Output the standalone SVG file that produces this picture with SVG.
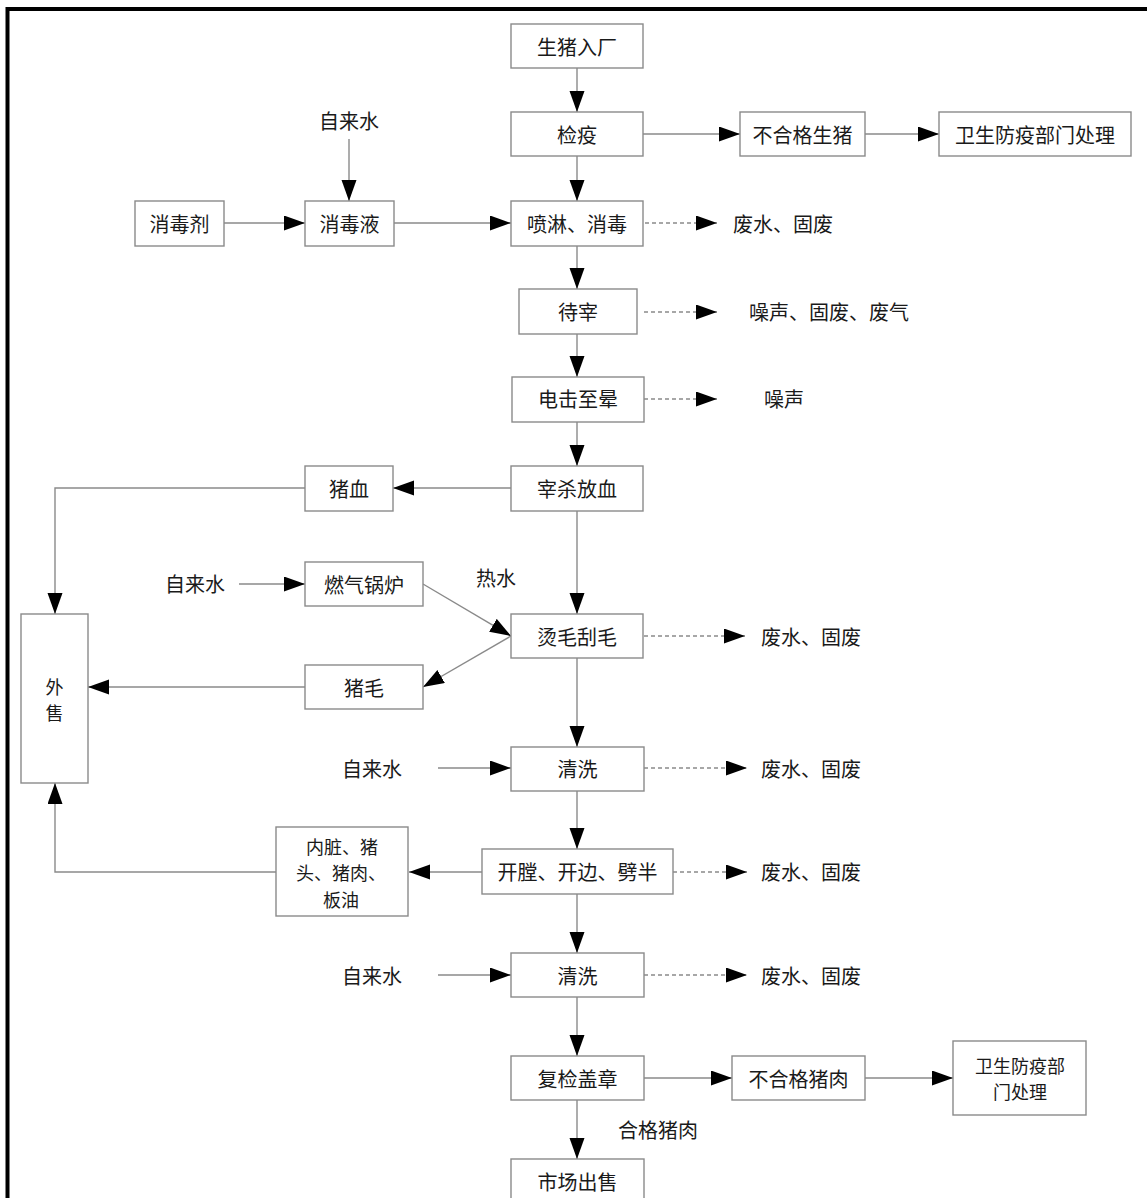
<svg xmlns="http://www.w3.org/2000/svg" width="1147" height="1198" viewBox="0 0 1147 1198">
<style>
.box{fill:#fff;stroke:#8a8a8a;stroke-width:1.4}
.t{font-family:"Noto Sans CJK SC","Noto Sans CJK TC",sans-serif;font-size:20px;fill:#1a1a1a;text-anchor:middle;dominant-baseline:central}
.tm{font-family:"Noto Sans CJK SC","Noto Sans CJK TC",sans-serif;font-size:18px;fill:#1a1a1a;text-anchor:middle;dominant-baseline:central}
.ts{font-family:"Noto Sans CJK SC","Noto Sans CJK TC",sans-serif;font-size:20px;fill:#1a1a1a;text-anchor:start;dominant-baseline:central}
.ln{fill:none;stroke:#8a8a8a;stroke-width:1.4;marker-end:url(#ah)}
.ds{fill:none;stroke:#8a8a8a;stroke-width:1.3;stroke-dasharray:4 3;marker-end:url(#ah)}
</style>
<defs>
<marker id="ah" markerUnits="userSpaceOnUse" markerWidth="22" markerHeight="16" refX="21" refY="7.5" orient="auto">
<path d="M0,0 L21,7.5 L0,15 z" fill="#000"/>
</marker>
</defs>
<rect width="1147" height="1198" fill="#fff"/>
<path d="M1200,9 H7.5 V1250" fill="none" stroke="#000" stroke-width="4"/>

<g id="connectors">
<path class="ln" d="M577,68 V112"/>
<path class="ln" d="M643,134 H740"/>
<path class="ln" d="M865,134 H939"/>
<path class="ln" d="M577,156 V201"/>
<path class="ln" d="M349,139 V201"/>
<path class="ln" d="M224,223 H305"/>
<path class="ln" d="M394,223 H511"/>
<path class="ds" d="M645,223 H717"/>
<path class="ln" d="M577,246 V289"/>
<path class="ds" d="M644,312 H717"/>
<path class="ln" d="M577,334 V377"/>
<path class="ds" d="M644,399 H717"/>
<path class="ln" d="M577,422 V466"/>
<path class="ln" d="M511,488 H393"/>
<path class="ln" d="M305,488 H55 V614"/>
<path class="ln" d="M577,511 V614"/>
<path class="ln" d="M239,584 H305"/>
<path class="ln" d="M423,584 L511,636"/>
<path class="ln" d="M511,636 L423,687"/>
<path class="ln" d="M305,687 H88"/>
<path class="ds" d="M644,636 H745"/>
<path class="ln" d="M577,658 V747"/>
<path class="ln" d="M438,768 H511"/>
<path class="ds" d="M644,768 H747"/>
<path class="ln" d="M577,791 V849"/>
<path class="ln" d="M482,872 H409"/>
<path class="ln" d="M276,872 H55 V783"/>
<path class="ds" d="M673,872 H747"/>
<path class="ln" d="M577,894 V953"/>
<path class="ln" d="M438,975 H511"/>
<path class="ds" d="M644,975 H747"/>
<path class="ln" d="M577,997 V1056"/>
<path class="ln" d="M644,1078 H732"/>
<path class="ln" d="M865,1078 H953"/>
<path class="ln" d="M577,1100 V1159"/>
</g>

<g id="n-shengzhu"><rect class="box" x="511" y="24" width="132" height="44"/><text class="t" x="577" y="46">生猪入厂</text></g>
<g id="n-jianyi"><rect class="box" x="511" y="112" width="132" height="44"/><text class="t" x="577" y="134">检疫</text></g>
<g id="n-buhege"><rect class="box" x="740" y="112" width="125" height="44"/><text class="t" x="802.5" y="134">不合格生猪</text></g>
<g id="n-weisheng1"><rect class="box" x="939" y="112" width="192" height="44"/><text class="t" x="1035" y="134">卫生防疫部门处理</text></g>
<g id="n-zilaishui1"><text class="t" x="349" y="120">自来水</text></g>
<g id="n-xiaoduji"><rect class="box" x="135" y="201" width="89" height="45"/><text class="t" x="179.5" y="223">消毒剂</text></g>
<g id="n-xiaoduye"><rect class="box" x="305" y="201" width="89" height="45"/><text class="t" x="349.5" y="223">消毒液</text></g>
<g id="n-penlin"><rect class="box" x="511" y="201" width="132" height="45"/><text class="t" x="577" y="223">喷淋、消毒</text></g>
<g id="n-out1"><text class="ts" x="733" y="223">废水、固废</text></g>
<g id="n-daizai"><rect class="box" x="519" y="289" width="118" height="45"/><text class="t" x="578" y="311">待宰</text></g>
<g id="n-out2"><text class="ts" x="749" y="311">噪声、固废、废气</text></g>
<g id="n-dianji"><rect class="box" x="512" y="377" width="132" height="45"/><text class="t" x="578" y="398">电击至晕</text></g>
<g id="n-out3"><text class="ts" x="764" y="398">噪声</text></g>
<g id="n-zaisha"><rect class="box" x="511" y="466" width="132" height="45"/><text class="t" x="577" y="488">宰杀放血</text></g>
<g id="n-zhuxue"><rect class="box" x="305" y="466" width="88" height="45"/><text class="t" x="349" y="488">猪血</text></g>
<g id="n-zilaishui2"><text class="t" x="195" y="583">自来水</text></g>
<g id="n-guolu"><rect class="box" x="305" y="562" width="118" height="44"/><text class="t" x="364" y="584">燃气锅炉</text></g>
<g id="n-reshui"><text class="t" x="496" y="577">热水</text></g>
<g id="n-tangmao"><rect class="box" x="511" y="614" width="132" height="44"/><text class="t" x="577" y="636">烫毛刮毛</text></g>
<g id="n-out4"><text class="ts" x="761" y="636">废水、固废</text></g>
<g id="n-zhumao"><rect class="box" x="305" y="665" width="118" height="44"/><text class="t" x="364" y="687">猪毛</text></g>
<g id="n-waishou"><rect class="box" x="21" y="614" width="67" height="169"/><text class="tm" x="54.5" y="685.5">外</text><text class="tm" x="54.5" y="712">售</text></g>
<g id="n-zilaishui3"><text class="t" x="372" y="768">自来水</text></g>
<g id="n-qingxi1"><rect class="box" x="511" y="747" width="133" height="44"/><text class="t" x="577.5" y="768">清洗</text></g>
<g id="n-out5"><text class="ts" x="761" y="768">废水、固废</text></g>
<g id="n-kaitang"><rect class="box" x="482" y="849" width="191" height="45"/><text class="t" x="577.5" y="871">开膛、开边、劈半</text></g>
<g id="n-neizang"><rect class="box" x="276" y="827" width="132" height="89"/><text class="tm" x="342" y="845.5">内脏、猪</text><text class="tm" x="341" y="872">头、猪肉、</text><text class="tm" x="341" y="898.5">板油</text></g>
<g id="n-out6"><text class="ts" x="761" y="871">废水、固废</text></g>
<g id="n-zilaishui4"><text class="t" x="372" y="975">自来水</text></g>
<g id="n-qingxi2"><rect class="box" x="511" y="953" width="133" height="44"/><text class="t" x="577.5" y="975">清洗</text></g>
<g id="n-out7"><text class="ts" x="761" y="975">废水、固废</text></g>
<g id="n-fujian"><rect class="box" x="511" y="1056" width="133" height="44"/><text class="t" x="577.5" y="1078">复检盖章</text></g>
<g id="n-buhegezhurou"><rect class="box" x="732" y="1056" width="133" height="44"/><text class="t" x="798.5" y="1078">不合格猪肉</text></g>
<g id="n-weisheng2"><rect class="box" x="953" y="1041" width="133" height="74"/><text class="tm" x="1020" y="1064.75">卫生防疫部</text><text class="tm" x="1020" y="1091.25">门处理</text></g>
<g id="n-hege"><text class="t" x="658" y="1129">合格猪肉</text></g>
<g id="n-shichang"><rect class="box" x="511" y="1159" width="133" height="44"/><text class="t" x="577.5" y="1181">市场出售</text></g>
</svg>
